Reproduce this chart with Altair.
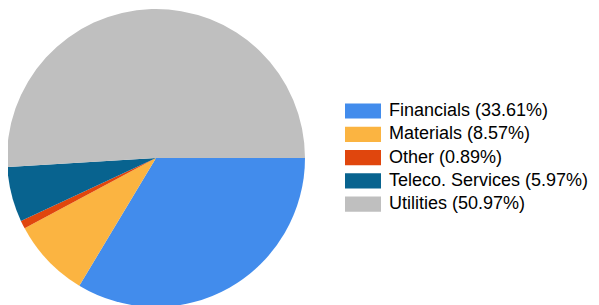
import math
import altair as alt
import pandas as pd

categories = ["Financials", "Materials", "Other", "Teleco. Services", "Utilities"]
shares = [33.61, 8.57, 0.89, 5.97, 50.97]
colors = ["#428CEC", "#FBB441", "#E0460D", "#08638F", "#BFBFBF"]

labels = [f"{c} ({v:.2f}%)" for c, v in zip(categories, shares)]
df = pd.DataFrame({"label": labels, "share": shares, "idx": list(range(len(labels)))})

chart = alt.Chart(df).mark_arc(outerRadius=149, stroke=None).encode(
    theta=alt.Theta("share:Q", stack=True,
                    scale=alt.Scale(range=[math.pi / 2, math.pi / 2 + 2 * math.pi])),
    order=alt.Order("idx:Q", sort="ascending"),
    color=alt.Color(
        "label:N",
        sort=labels,
        scale=alt.Scale(domain=labels, range=colors),
        legend=alt.Legend(
            title=None,
            orient="none",
            legendX=346,
            legendY=94,
            symbolType="M-2.25,-0.95H2.25V0.95H-2.25Z",
            symbolSize=256,
            symbolStrokeWidth=0,
            symbolOpacity=1,
            labelFont="Liberation Sans",
            labelFontSize=18,
            labelColor="#000000",
            labelOffset=17,
            rowPadding=5.3,
            labelLimit=400,
        ),
    ),
    x=alt.value(148),
    y=alt.value(150),
).properties(
    width=583,
    height=297,
    padding=0,
    autosize=alt.AutoSizeParams(type="none"),
).configure_view(stroke=None)

chart.save("out.html", embed_options={"renderer": "svg", "actions": False})
